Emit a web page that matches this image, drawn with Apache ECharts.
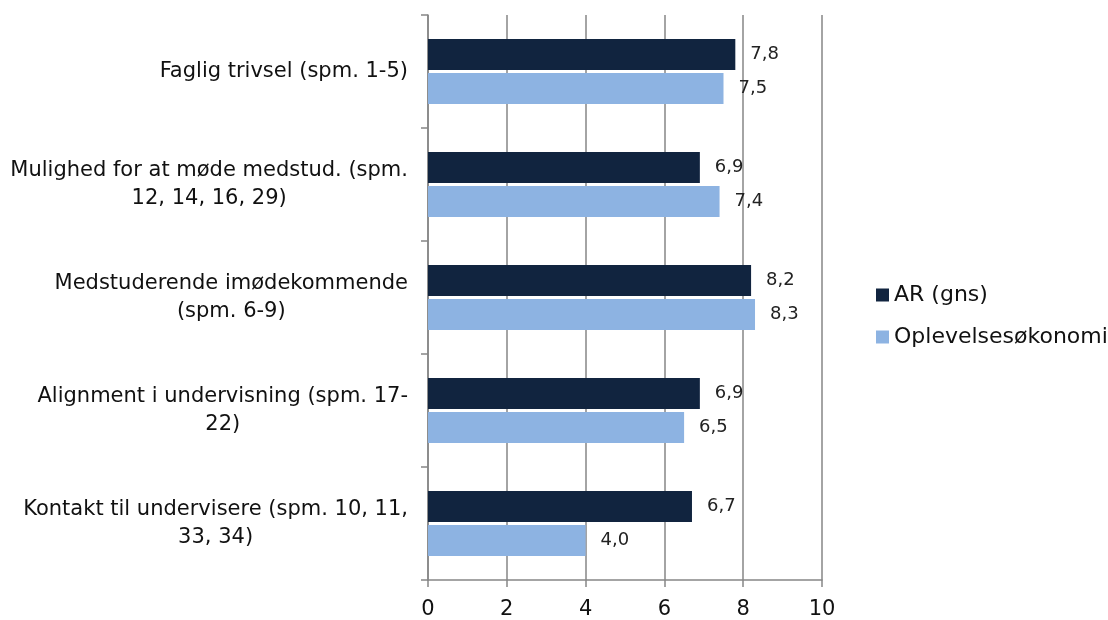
<!DOCTYPE html>
<html><head><meta charset="utf-8">
<script src="https://cdn.jsdelivr.net/npm/echarts@6/dist/echarts.min.js"></script>
<style>html,body{margin:0;padding:0;background:#fff}#c{width:1108px;height:620px}</style>
</head><body><div id="c"></div>
<script>
const categories = [
  "Faglig trivsel (spm. 1-5)",
  "Mulighed for at møde medstud. (spm.\n12, 14, 16, 29)",
  "Medstuderende imødekommende\n(spm. 6-9)",
  "Alignment i undervisning (spm. 17-\n22)",
  "Kontakt til undervisere (spm. 10, 11,\n33, 34)"
];
const seriesNames = ["AR (gns)", "Oplevelsesøkonomi"];
const arValues = [7.8, 6.9, 8.2, 6.9, 6.7];
const oplValues = [7.5, 7.4, 8.3, 6.5, 4.0];
const xTicks = [0, 2, 4, 6, 8, 10];

const FONT = "'DejaVu Sans', sans-serif";
const chart = echarts.init(document.getElementById('c'), null, {renderer: 'canvas'});
const lbl = {
  show: true, position: 'right', distance: 15, color: '#222', fontSize: 18, fontFamily: FONT,
  formatter: p => p.value.toFixed(1).replace('.', ',')
};
chart.setOption({
  animation: false,
  grid: {left: 428, right: 286, top: 15, bottom: 40, containLabel: false},
  legend: {
    orient: 'vertical', left: 871, top: 279, itemGap: 20, itemWidth: 13, itemHeight: 13,
    icon: 'rect', textStyle: {fontSize: 22, fontFamily: FONT, color: '#111'},
    data: seriesNames
  },
  xAxis: {
    type: 'value', min: xTicks[0], max: xTicks[xTicks.length - 1], interval: 2,
    axisLine: {show: true, lineStyle: {color: '#868686', width: 1.5}},
    axisTick: {show: true, length: 7, lineStyle: {color: '#868686', width: 1.5}},
    splitLine: {show: true, lineStyle: {color: '#868686', width: 1.5}},
    axisLabel: {fontSize: 21, fontFamily: FONT, color: '#111', margin: 19}
  },
  yAxis: {
    type: 'category', inverse: true, data: categories,
    axisLine: {show: true, lineStyle: {color: '#868686', width: 1.5}},
    axisTick: {show: true, length: 7, lineStyle: {color: '#868686', width: 1.5}},
    axisLabel: {
      fontSize: 21, fontFamily: FONT, color: '#111', margin: 20, lineHeight: 28,
      formatter: v => v.split('\n').map(s => '{c|' + s + '}').join('\n'),
      rich: {c: {align: 'center', fontSize: 21, fontFamily: FONT, color: '#111', lineHeight: 28}}
    }
  },
  series: [
    {name: seriesNames[0], type: 'bar', data: arValues, barWidth: 31, barGap: '10%', barCategoryGap: '43%',
     itemStyle: {color: '#11243F'}, label: lbl},
    {name: seriesNames[1], type: 'bar', data: oplValues, barWidth: 31, barGap: '10%',
     itemStyle: {color: '#8DB3E2'}, label: lbl}
  ]
});
</script></body></html>
